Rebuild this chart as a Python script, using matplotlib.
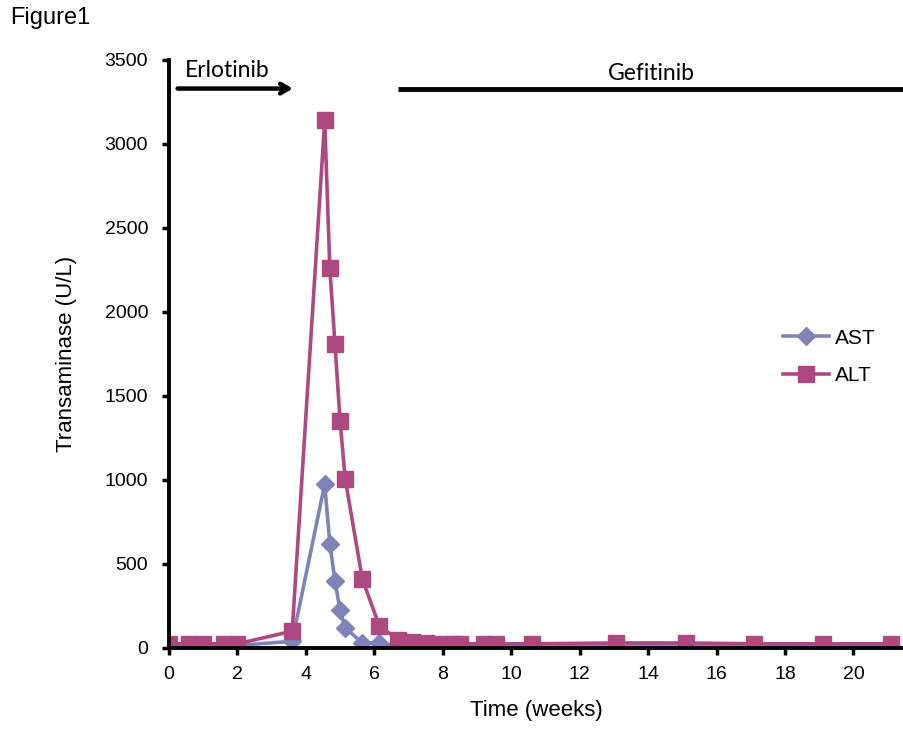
import matplotlib
matplotlib.use("Agg")
import matplotlib.pyplot as plt

plt.rcParams['font.family'] = ['Liberation Sans', 'DejaVu Sans']

# Data
ast_weeks = [0, 0.57, 1.0, 1.6, 2.0, 3.6, 4.55, 4.7, 4.85, 5.0, 5.15, 5.65, 6.15, 6.7, 7.1, 7.5, 7.9, 8.3, 8.5,
             9.2, 9.55, 10.6, 13.05, 15.1, 17.1, 19.1, 21.1]
ast_values = [15, 15, 15, 15, 15, 40, 975, 620, 400, 225, 120, 30, 30, 10, 8, 8, 8, 8, 8,
              8, 8, 10, 18, 15, 10, 10, 10]
alt_weeks = [0, 0.57, 1.0, 1.6, 2.0, 3.6, 4.55, 4.7, 4.85, 5.0, 5.15, 5.65, 6.15, 6.7, 7.1, 7.5, 7.9, 8.3, 8.5,
             9.2, 9.55, 10.6, 13.05, 15.1, 17.1, 19.1, 21.1]
alt_values = [25, 25, 25, 25, 25, 100, 3140, 2260, 1810, 1350, 1005, 410, 130, 50, 35, 30, 25, 25, 25,
              25, 25, 25, 30, 30, 25, 25, 25]
x_ticks = [0, 2, 4, 6, 8, 10, 12, 14, 16, 18, 20]
y_ticks = [0, 500, 1000, 1500, 2000, 2500, 3000, 3500]
erlotinib_span = (0.17, 3.7)
gefitinib_span = (6.7, 21.5)
bar_level = 3330

ast_color = '#7F84B8'
alt_color = '#AE4880'

fig = plt.figure(figsize=(9.04, 7.30), dpi=100)
ax = fig.add_axes([169/904, 1-648/730, (903-169)/904, (648-60)/730])

ax.plot(ast_weeks, ast_values, color=ast_color, lw=2.6, marker='D', markersize=9.5,
        label='AST', zorder=3)
ax.plot(alt_weeks, alt_values, color=alt_color, lw=2.6, marker='s', markersize=11.5,
        label='ALT', zorder=4)

ax.set_xlim(0, 21.45)
ax.set_ylim(0, 3500)
ax.set_xticks(x_ticks)
ax.set_yticks(y_ticks)
ax.tick_params(axis='both', labelsize=14, width=2.5, length=5, direction='out', pad=8)
ax.tick_params(axis='y', pad=10)
for s in ['top', 'right']:
    ax.spines[s].set_visible(False)
for s in ['left', 'bottom']:
    ax.spines[s].set_linewidth(2.8)
ax.spines['left'].set_zorder(5)
ax.spines['bottom'].set_zorder(5)

ax.set_xlabel('Time (weeks)', fontsize=16, labelpad=12)
ax.set_ylabel('Transaminase (U/L)', fontsize=16, labelpad=20)

# Treatment annotations
ax.annotate('', xy=(erlotinib_span[1], bar_level), xytext=(erlotinib_span[0], bar_level),
            arrowprops=dict(arrowstyle='->,head_length=0.6,head_width=0.35', lw=3.2, color='black'),
            annotation_clip=False)
ax.text(0.45, 3440, 'Erlotinib', fontsize=16.5, family=['Lato', 'DejaVu Sans'], va='center', ha='left')
ax.plot(gefitinib_span, [bar_level, bar_level], color='black', lw=3.5, clip_on=False, solid_capstyle='butt')
ax.text(14.1, 3420, 'Gefitinib', fontsize=16.5, family=['Lato', 'DejaVu Sans'], va='center', ha='center')

leg = ax.legend(loc='upper left', bbox_to_anchor=(0.817, 0.568), frameon=False, fontsize=15,
                handlelength=2.2, handletextpad=0.3, labelspacing=0.9, borderpad=0.2)

fig.text(10/904, 1-18/730, 'Figure1', fontsize=17, va='center', ha='left')

fig.savefig('out.png', dpi=100)
